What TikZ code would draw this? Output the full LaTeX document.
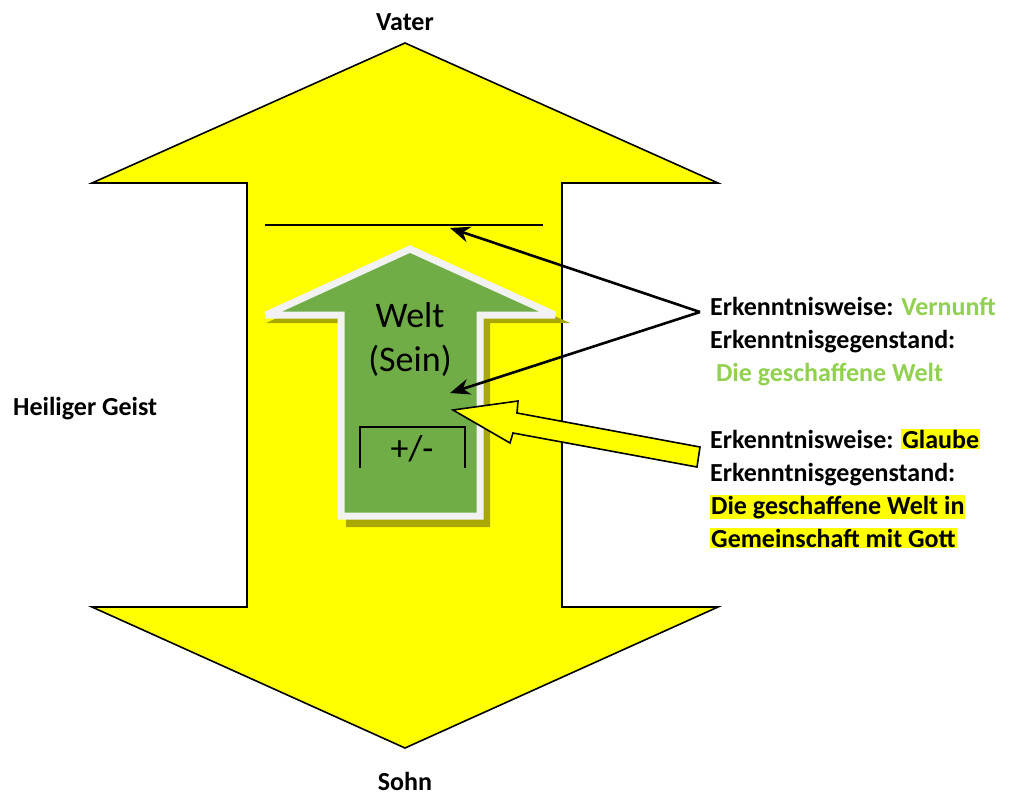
\documentclass[tikz,border=0pt]{standalone}
\usepackage{fontspec}
\setmainfont{Carlito}
\usetikzlibrary{arrows.meta}
\definecolor{gelb}{HTML}{FFFF00}
\definecolor{gruen}{HTML}{70AD47}
\definecolor{hellgruen}{HTML}{92D050}
\definecolor{rand}{HTML}{F2F2F2}
\definecolor{schatten}{HTML}{A8A800}
\newcommand{\hlgelb}[1]{{\setlength{\fboxsep}{1pt}\colorbox{gelb}{#1}}}
\tikzset{
	txt/.style={font=\fontsize{26}{33}\selectfont\bfseries, inner sep=0pt},
	welt/.style={font=\fontsize{36}{42}\selectfont, inner sep=0pt},
	pfeil/.style={line width=2.6pt, -{Stealth[length=20pt,width=16pt]}}
}
\begin{document}
\begin{tikzpicture}[x=1pt,y=-1pt]
	\useasboundingbox (0,0) rectangle (1010,796);
	% grosser Doppelpfeil
	\draw[fill=gelb, line width=1.6pt, line join=miter]
		(405,43)--(718,183)--(562,183)--(562,607)--(718,607)--(405,748)
		--(92,607)--(247,607)--(247,183)--(92,183)--cycle;
	\node[txt, anchor=base] (vater) at (405,30) {Vater};
	\node[txt, anchor=base] (sohn) at (405,790) {Sohn};
	\node[txt, anchor=base west] (geist) at (13,415) {Heiliger Geist};
	% Strich oben
	\draw[line width=1.2pt] (265,225) coordinate (s1) -- (543,225) coordinate (s2);
	% Schatten des gruenen Pfeils
	\fill[schatten] (416,254)--(570,323)--(490,323)--(490,527)--(346,527)--(346,323)--(266,323)--cycle;
	% gruener Pfeil
	\draw[fill=gruen, draw=rand, line width=7pt, line join=miter, miter limit=3]
		(410,249)--(555,315)--(480,315)--(480,516)--(341,516)--(341,315)--(266,315)--cycle;
	\node[welt, anchor=base] (w1) at (410,327) {Welt};
	\node[welt, anchor=base] (w2) at (410,371) {(Sein)};
	\node[welt, anchor=base] (pm) at (412,460) {+/-};
	\draw[line width=1.4pt] (360,468)--(360,427)--(465,427)--(465,468);
	% Texte rechts (base = letzte Zeile)
	\node[txt, anchor=base west, align=left] (vernunft) at (710,381)
		{Erkenntnisweise: \textcolor{hellgruen}{Vernunft}\\
		Erkenntnisgegenstand:\\
		\ \textcolor{hellgruen}{Die geschaffene Welt}};
	\node[txt, anchor=base west, align=left] (glaube) at (710,547)
		{Erkenntnisweise: \hlgelb{Glaube}\\
		Erkenntnisgegenstand:\\
		\hlgelb{Die geschaffene Welt in}\\
		\hlgelb{Gemeinschaft mit Gott}};
	% schwarze Pfeile
	\coordinate (gabel) at (700,312);
	\coordinate (z1) at (450,228);
	\coordinate (z2) at (450,393);
	\draw[pfeil] (gabel) -- (z1);
	\draw[pfeil] (gabel) -- (z2);
	% gelber Blockpfeil
	\coordinate (spitze) at (453,410);
	\draw[fill=gelb, line width=1.6pt, line join=miter]
		(spitze)--(518,401)--(517,413)--(700,447)--(697,467)--(513,433)--(510,443)--cycle;
\end{tikzpicture}
\end{document}
